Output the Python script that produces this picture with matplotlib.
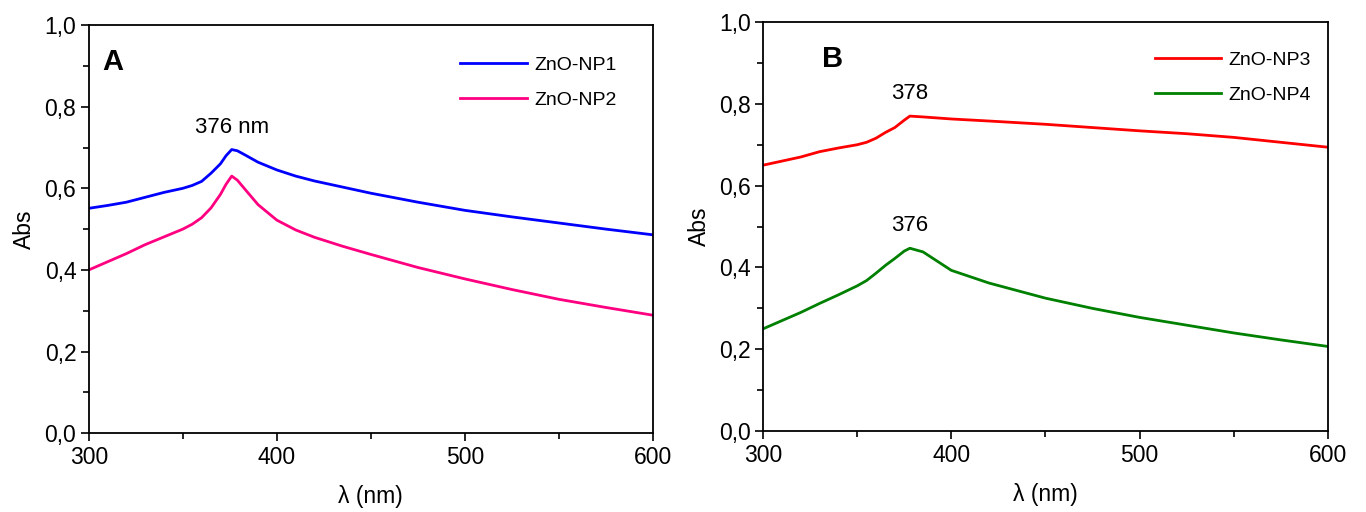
import matplotlib
matplotlib.use("Agg")
import matplotlib.pyplot as plt
from matplotlib.ticker import MultipleLocator, FuncFormatter

plt.rcParams['font.family'] = ['Liberation Sans', 'DejaVu Sans']

# wavelength grid (nm)
wl_a = [300, 310, 320, 330, 340, 350, 355, 360, 365, 370, 373, 376, 379, 383,
        390, 400, 410, 420, 435, 450, 475, 500, 525, 550, 575, 600]
np1 = [0.551, 0.558, 0.566, 0.578, 0.590, 0.600, 0.607, 0.617, 0.637, 0.660,
       0.680, 0.695, 0.692, 0.682, 0.664, 0.645, 0.630, 0.618, 0.603, 0.588,
       0.566, 0.546, 0.530, 0.515, 0.500, 0.486]
np2 = [0.400, 0.420, 0.440, 0.462, 0.481, 0.500, 0.512, 0.528, 0.552, 0.585,
       0.610, 0.630, 0.620, 0.598, 0.560, 0.522, 0.498, 0.480, 0.458, 0.438,
       0.406, 0.378, 0.352, 0.328, 0.308, 0.289]

wl_b = [300, 310, 320, 330, 340, 350, 355, 360, 365, 370, 375, 378, 385,
        400, 420, 450, 475, 500, 525, 550, 575, 600]
np3 = [0.650, 0.660, 0.670, 0.683, 0.692, 0.700, 0.706, 0.716, 0.730, 0.742,
       0.760, 0.770, 0.768, 0.763, 0.758, 0.750, 0.742, 0.734, 0.727, 0.718,
       0.706, 0.694]
np4 = [0.250, 0.270, 0.290, 0.312, 0.333, 0.355, 0.368, 0.386, 0.405, 0.422,
       0.440, 0.447, 0.438, 0.393, 0.362, 0.325, 0.300, 0.278, 0.259, 0.240,
       0.223, 0.207]


def comma(v, pos):
    return f"{v:.1f}".replace(".", ",")


def style(ax):
    ax.set_xlim(300, 600)
    ax.set_ylim(0, 1.0)
    ax.xaxis.set_major_locator(MultipleLocator(100))
    ax.xaxis.set_minor_locator(MultipleLocator(50))
    ax.yaxis.set_major_locator(MultipleLocator(0.2))
    ax.yaxis.set_minor_locator(MultipleLocator(0.1))
    ax.yaxis.set_major_formatter(FuncFormatter(comma))
    ax.tick_params(which='both', direction='out', top=False, right=False,
                   labelsize=16.5, width=1.2, pad=3)
    ax.tick_params(which='major', length=6)
    ax.tick_params(which='minor', length=4)
    for s in ax.spines.values():
        s.set_linewidth(1.3)
    ax.set_xlabel("λ (nm)", fontsize=16.5, labelpad=12)
    ax.set_ylabel("Abs", fontsize=16.5, labelpad=6)


fig = plt.figure(figsize=(13.66, 5.12), dpi=100)
ax1 = fig.add_axes([0.065, 0.154, 0.413, 0.797])
ax2 = fig.add_axes([0.5586, 0.158, 0.4134, 0.799])

ax1.plot(wl_a, np1, color='#0000ff', lw=2, label='ZnO-NP1')
ax1.plot(wl_a, np2, color='#ff0080', lw=2, label='ZnO-NP2')
style(ax1)
ax1.text(313, 0.91, "A", fontsize=21, fontweight='bold', va='center', ha='center')
ax1.text(376, 0.748, "376 nm", fontsize=16, ha='center', va='center')
ax1.legend(loc='upper left', bbox_to_anchor=(0.645, 0.943), frameon=False,
           fontsize=14, handlelength=3.4, handletextpad=0.4, labelspacing=0.9,
           borderaxespad=0)

ax2.plot(wl_b, np3, color='#ff0000', lw=2, label='ZnO-NP3')
ax2.plot(wl_b, np4, color='#008000', lw=2, label='ZnO-NP4')
style(ax2)
ax2.text(337, 0.91, "B", fontsize=21, fontweight='bold', va='center', ha='center')
ax2.text(378, 0.826, "378", fontsize=16, ha='center', va='center')
ax2.text(378, 0.502, "376", fontsize=16, ha='center', va='center')
ax2.legend(loc='upper left', bbox_to_anchor=(0.68, 0.948), frameon=False,
           fontsize=14, handlelength=3.4, handletextpad=0.4, labelspacing=0.9,
           borderaxespad=0)

fig.savefig("out.png", dpi=100)
